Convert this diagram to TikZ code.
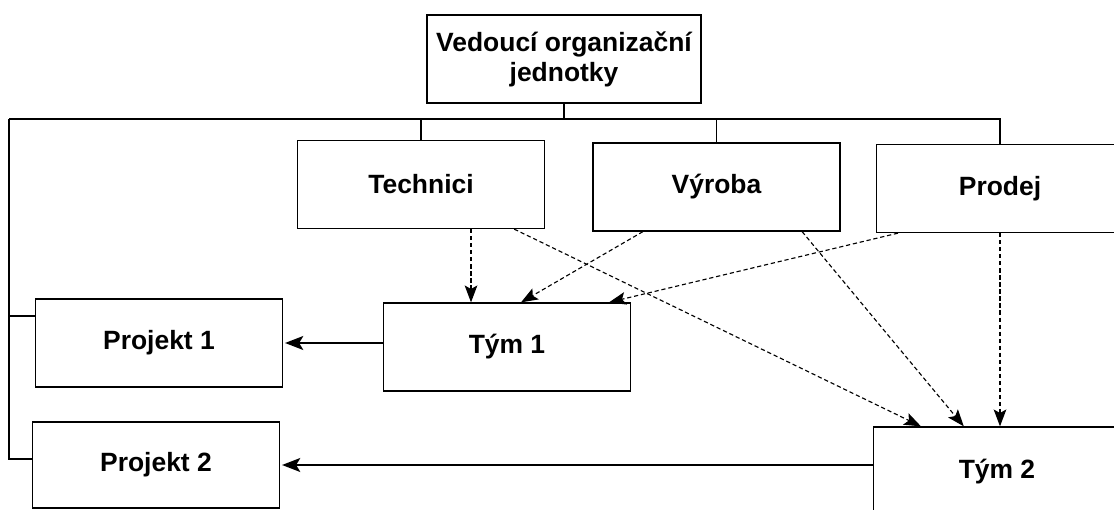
\documentclass[tikz,border=0pt]{standalone}
\usepackage{fontspec}
\setmainfont{Liberation Sans}
\usetikzlibrary{arrows.meta}

\tikzset{
  box/.style={draw, line width=0.9pt, minimum width=6.17cm, minimum height=2.2cm,
    inner sep=0pt, font=\bfseries\fontsize{18.8}{21.5}\selectfont},
  link/.style={line width=0.9pt},
  solidarrow/.style={line width=0.9pt, -{Stealth[length=13pt, width=10pt, inset=3pt]}},
  dasharrow/.style={line width=0.8pt, dash pattern=on 3pt off 2pt,
    -{Stealth[length=12pt, width=9pt, inset=2.5pt]}}
}

\begin{document}
\begin{tikzpicture}[x=0.025cm, y=-0.025cm]
        % Page frame (pixels of the reference)
        \useasboundingbox (0,0) rectangle (1114,510);
        \clip (0,0) rectangle (1114,510);

        % Boxes
        \node[box, minimum width=6.85cm, align=center] (vedouci) at (564,59) {Vedoucí organizační\\jednotky};
        \node[box] (technici) at (421,184.5) {Technici};
        \node[box] (vyroba) at (716.5,187) {Výroba};
        \node[box] (prodej) at (1000,188.5) {Prodej};
        \node[box] (projekt1) at (159,343) {Projekt 1};
        \node[box, minimum height=2.15cm] (projekt2) at (156,465) {Projekt 2};
        \node[box] (tym1) at (507,347) {Tým 1};
        \node[box, minimum height=2.25cm] (tym2) at (997,472) {Tým 2};

        % Line structure
        \coordinate (bus) at (9,119);
        \coordinate (p1in) at ([yshift=0.675cm]projekt1.west);
        \coordinate (p2in) at ([yshift=0.15cm]projekt2.west);
        \draw[link] (vedouci.south) -- (vedouci.south |- bus);
        \draw[link] (bus) -- (bus -| prodej.north) -- (prodej.north);
        \draw[link] (bus -| technici.north) -- (technici.north);
        \draw[link] (bus -| vyroba.north) -- (vyroba.north);
        \draw[link] (bus) -- (bus |- p2in) -- (p2in);
        \draw[link] (bus |- p1in) -- (p1in);

        % Teams to projects
        \draw[solidarrow] (projekt1.east -| tym1.west) -- ([xshift=0.05cm]projekt1.east);
        \draw[solidarrow] (projekt2.east -| tym2.west) -- ([xshift=0.05cm]projekt2.east);

        % Departments to teams
        \draw[dasharrow] ([xshift=1.25cm]technici.south) -- ([xshift=1.25cm]technici.south |- tym1.north);
        \draw[dasharrow] ([xshift=-1.84cm]vyroba.south) -- ([xshift=0.35cm]tym1.north);
        \draw[dasharrow] ([xshift=-2.55cm]prodej.south) -- ([xshift=2.55cm]tym1.north);
        \draw[dasharrow] ([xshift=2.33cm]technici.south) -- ([xshift=-1.9cm]tym2.north);
        \draw[dasharrow] ([xshift=2.14cm]vyroba.south) -- ([xshift=-0.83cm]tym2.north);
        \draw[dasharrow] (prodej.south) -- (prodej.south |- tym2.north);
\end{tikzpicture}
\end{document}
